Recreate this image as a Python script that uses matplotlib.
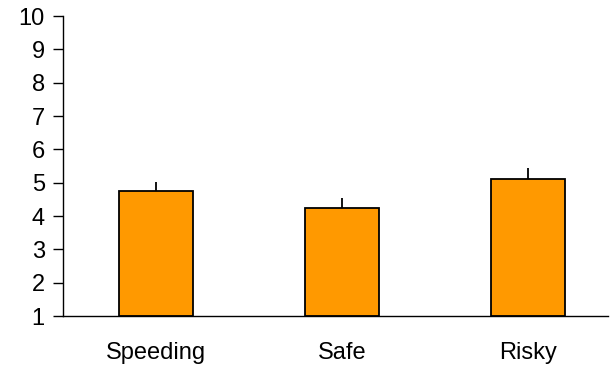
import matplotlib.pyplot as plt

plt.rcParams['font.family'] = ['Liberation Sans', 'DejaVu Sans']

conditions = ['Speeding', 'Safe', 'Risky']
means = [4.75, 4.23, 5.11]
errors = [0.27, 0.32, 0.34]
baseline = 1

fig = plt.figure(figsize=(6.16, 3.74), dpi=100)
ax = fig.add_axes([0.102, 0.155, 0.885, 0.802])

x = range(len(conditions))
heights = [m - baseline for m in means]
ax.bar(x, heights, bottom=baseline, width=0.4, color='#ff9900',
       edgecolor='black', linewidth=1.3, zorder=2)
# upper half of the error bars only, no caps
ax.errorbar(x, means, yerr=[[0] * len(errors), errors], fmt='none',
            ecolor='black', elinewidth=1.3, capsize=0, zorder=1)

ax.set_ylim(1, 10)
ax.set_xlim(-0.5, 2.43)
ax.set_yticks(range(1, 11))
ax.set_xticks(list(x))
ax.set_xticklabels(conditions)

for side in ['top', 'right']:
    ax.spines[side].set_visible(False)
ax.spines['left'].set_linewidth(1.0)
ax.spines['bottom'].set_linewidth(1.0)
ax.tick_params(axis='y', direction='out', length=7, width=1.0, pad=6,
               labelsize=17)
ax.tick_params(axis='x', length=0, pad=19, labelsize=17)

fig.savefig('out.png', dpi=100)
